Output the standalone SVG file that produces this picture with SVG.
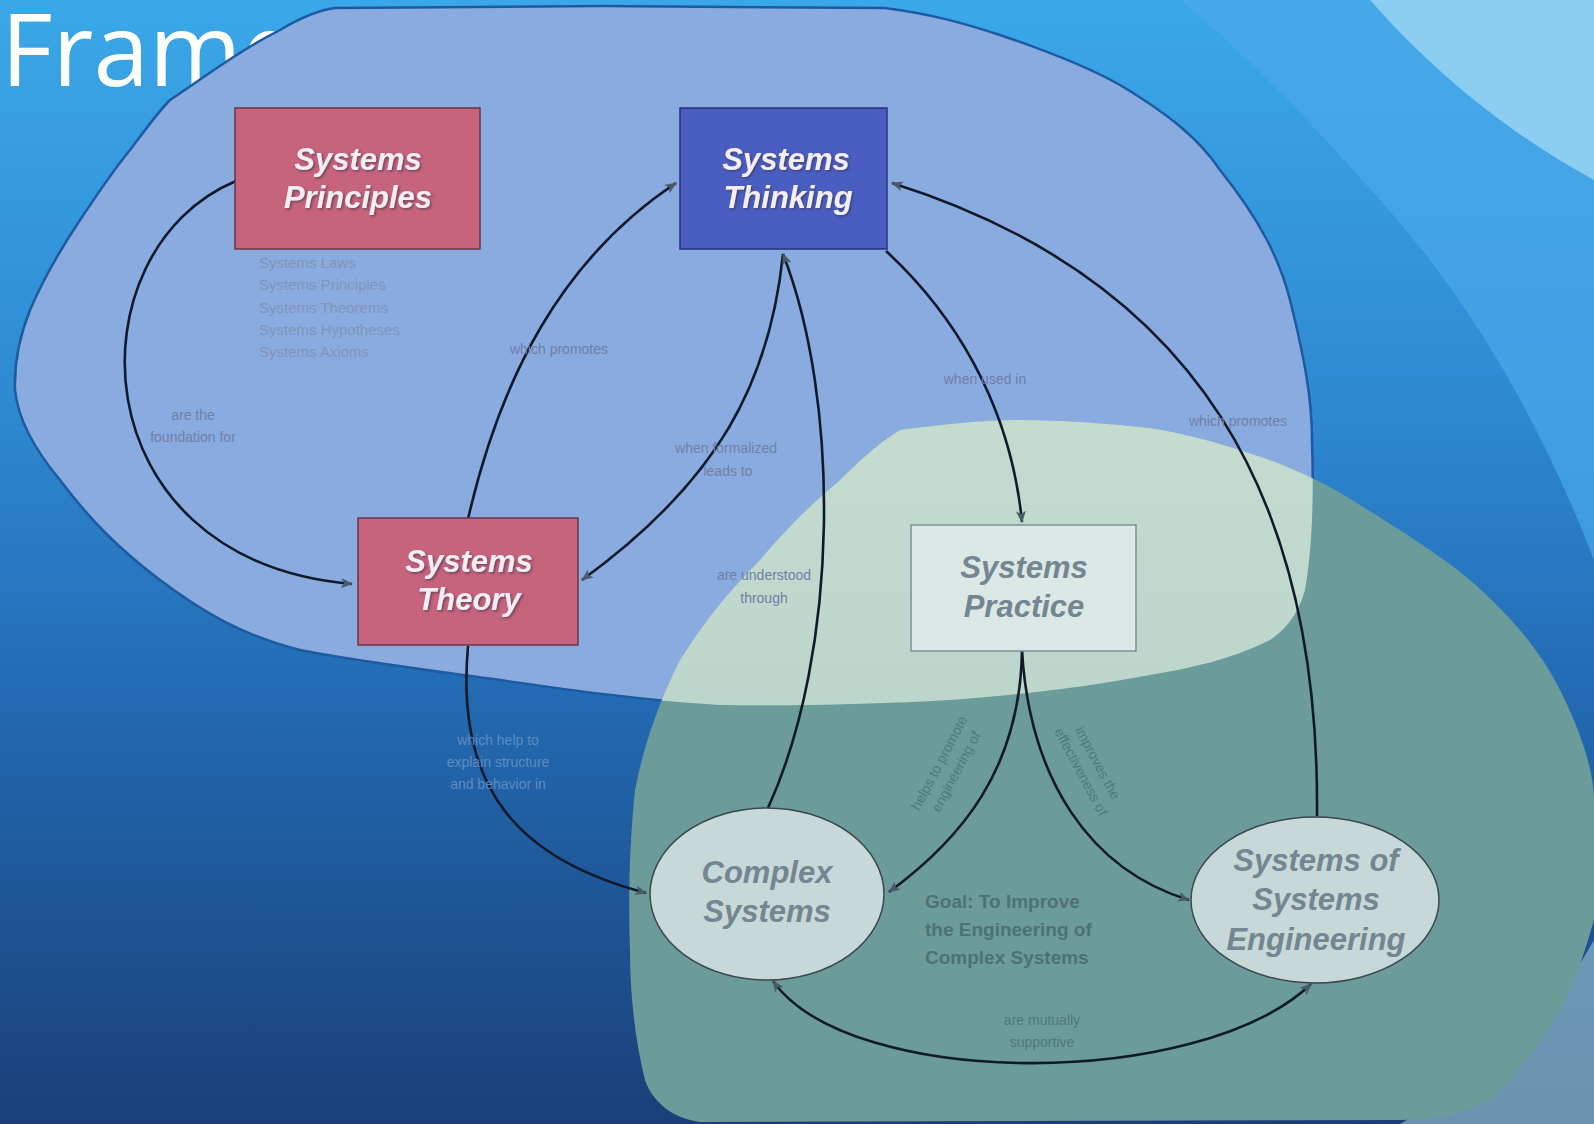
<svg xmlns="http://www.w3.org/2000/svg" width="1594" height="1124" viewBox="0 0 1594 1124">
<defs>
<linearGradient id="bg" x1="0" y1="0" x2="0" y2="1">
<stop offset="0" stop-color="#3aa8e8"/>
<stop offset="0.35" stop-color="#2f8ad2"/>
<stop offset="0.6" stop-color="#236db6"/>
<stop offset="1" stop-color="#1a3f78"/>
</linearGradient>
<linearGradient id="ov" x1="0" y1="0" x2="0" y2="1">
<stop offset="0" stop-color="#c4dccf"/>
<stop offset="1" stop-color="#b2cdc8"/>
</linearGradient>
<clipPath id="blueclip">
<path id="bluePath" d="M170,100 C200,80 240,50 280,30 C300,18 320,10 335,8 L600,6 L885,8 C930,14 960,22 1000,35 C1050,52 1090,68 1120,85 C1170,115 1200,140 1220,170 C1260,220 1280,260 1290,300 C1305,360 1312,400 1312,440 C1314,500 1312,550 1305,590 C1298,615 1285,630 1270,640 C1230,660 1190,668 1150,675 C1080,688 1010,696 950,700 C880,704 800,706 720,705 C640,700 570,690 500,680 C430,670 360,662 300,650 C240,635 200,610 160,580 C120,550 90,520 60,480 C35,450 18,420 15,390 C14,360 20,335 30,310 C45,275 60,250 80,220 C100,190 115,168 130,150 C145,130 158,112 170,100 Z"/>
</clipPath>
<marker id="ah" viewBox="0 0 12 10" refX="11" refY="5" markerWidth="12" markerHeight="10" markerUnits="userSpaceOnUse" orient="auto-start-reverse">
<path d="M0,0 L12,5 L0,10 L3,5 Z" fill="#4a5a6a"/>
</marker>
<filter id="sh" x="-10%" y="-10%" width="120%" height="130%">
<feDropShadow dx="1.5" dy="1.5" stdDeviation="0.8" flood-color="#303040" flood-opacity="0.6"/>
</filter>
</defs>
<style>
.lbl{font-family:"Liberation Sans",Arial,sans-serif;font-size:14px;fill:#6f80a6;text-anchor:middle}
.lbld{font-family:"Liberation Sans",Arial,sans-serif;font-size:14px;fill:#5d8cc0;text-anchor:middle}
.lblg{font-family:"Liberation Sans",Arial,sans-serif;font-size:14px;fill:#4e7a7c;text-anchor:middle}
.lst{font-family:"Liberation Sans",Arial,sans-serif;font-size:15px;fill:#8294ba}
.nt{font-family:"Liberation Sans",Arial,sans-serif;font-size:31px;font-weight:bold;font-style:italic;text-anchor:middle}
.wt{fill:#f4eef4}
.gt{fill:#748690}
.con{fill:none;stroke:#111a28;stroke-width:2.6;marker-end:url(#ah)}
.goal{font-family:"Liberation Sans",Arial,sans-serif;font-size:19px;font-weight:bold;fill:#4d7274}
</style>

<!-- background -->
<rect x="0" y="0" width="1594" height="1124" fill="url(#bg)"/>
<path d="M1180,0 L1594,0 L1594,560 C1540,420 1470,300 1380,200 C1300,110 1240,50 1180,0 Z" fill="#4aaaea" opacity="0.7"/>
<path d="M1370,0 L1594,0 L1594,180 C1520,140 1440,80 1370,0 Z" fill="#8ccdf2"/>
<path d="M1594,940 C1550,1020 1480,1080 1400,1124 L1594,1124 Z" fill="#8fb8c8" opacity="0.7"/>

<!-- title -->
<text x="1" y="86" font-family="'Open Sans','DejaVu Sans',sans-serif" font-size="100" fill="#ffffff">Frame</text>

<!-- blue blob -->
<use href="#bluePath" fill="#89abe0" stroke="#1d5aa0" stroke-width="2.5"/>

<!-- green blob -->
<path id="greenPath" d="M900,430 C960,422 990,420 1020,420 C1070,420 1110,424 1150,428 C1200,436 1240,450 1270,460 C1310,475 1340,492 1360,505 C1400,530 1440,555 1470,580 C1510,615 1540,650 1560,690 C1580,730 1594,770 1594,800 L1594,920 C1585,950 1575,985 1560,1010 C1540,1045 1515,1075 1490,1100 C1460,1115 1430,1120 1400,1120 L700,1122 C670,1118 652,1100 645,1080 C635,1040 630,995 630,950 C628,890 630,840 635,790 C645,740 660,700 680,660 C705,620 730,590 760,560 C785,530 810,505 840,480 C860,460 880,442 900,430 Z" fill="#6b9c9a"/>
<path d="M900,430 C960,422 990,420 1020,420 C1070,420 1110,424 1150,428 C1200,436 1240,450 1270,460 C1310,475 1340,492 1360,505 C1400,530 1440,555 1470,580 C1510,615 1540,650 1560,690 C1580,730 1594,770 1594,800 L1594,920 C1585,950 1575,985 1560,1010 C1540,1045 1515,1075 1490,1100 C1460,1115 1430,1120 1400,1120 L700,1122 C670,1118 652,1100 645,1080 C635,1040 630,995 630,950 C628,890 630,840 635,790 C645,740 660,700 680,660 C705,620 730,590 760,560 C785,530 810,505 840,480 C860,460 880,442 900,430 Z" fill="url(#ov)" clip-path="url(#blueclip)"/>

<!-- side texts -->
<g id="list">
<text class="lst" x="259" y="268">Systems Laws</text>
<text class="lst" x="259" y="290">Systems Principles</text>
<text class="lst" x="259" y="313">Systems Theorems</text>
<text class="lst" x="259" y="335">Systems Hypotheses</text>
<text class="lst" x="259" y="357">Systems Axioms</text>
</g>
<g id="goal">
<text class="goal" x="925" y="908">Goal: To Improve</text>
<text class="goal" x="925" y="936">the Engineering of</text>
<text class="goal" x="925" y="964">Complex Systems</text>
</g>

<!-- connectors -->
<g id="connectors">
<path class="con" d="M236,181 C70,250 75,560 352,584"/>
<path class="con" d="M468,519 C500,380 560,260 676,183"/>
<path class="con" d="M783,254 C770,380 720,480 582,580"/>
<path class="con" d="M768,808 C840,650 840,400 783,254"/>
<path class="con" d="M886,251 C950,310 1010,400 1022,522"/>
<path class="con" d="M1317,816 C1320,500 1200,280 892,183"/>
<path class="con" d="M468,646 C455,790 520,860 646,893"/>
<path class="con" d="M1022,651 C1020,770 960,840 889,892"/>
<path class="con" d="M1022,651 C1030,780 1090,870 1189,900"/>
<path class="con" style="marker-start:url(#ah)" d="M773,981 C850,1090 1200,1090 1311,984"/>

<text class="lbl" x="193" y="420">are the</text>
<text class="lbl" x="193" y="442">foundation for</text>
<text class="lbl" x="559" y="354">which promotes</text>
<text class="lbl" x="726" y="453">when formalized</text>
<text class="lbl" x="728" y="476">leads to</text>
<text class="lbl" x="764" y="580">are understood</text>
<text class="lbl" x="764" y="603">through</text>
<text class="lbl" x="985" y="384">when used in</text>
<text class="lbl" x="1238" y="426">which promotes</text>
<text class="lbld" x="498" y="745">which help to</text>
<text class="lbld" x="498" y="767">explain structure</text>
<text class="lbld" x="498" y="789">and behavior in</text>
<g transform="translate(947,767) rotate(-62)">
<text class="lblg" x="0" y="-4">helps to promote</text>
<text class="lblg" x="0" y="15">engineering of</text>
</g>
<g transform="translate(1090,767) rotate(62)">
<text class="lblg" x="0" y="-4">improves the</text>
<text class="lblg" x="0" y="15">effectiveness of</text>
</g>
<text class="lblg" x="1042" y="1025">are mutually</text>
<text class="lblg" x="1042" y="1047">supportive</text>
</g>

<!-- nodes -->
<g id="principles">
<rect x="235" y="108" width="245" height="141" fill="#c6637d" stroke="#6a3446" stroke-width="1.5"/>
<text class="nt wt" x="358" y="170" filter="url(#sh)">Systems</text>
<text class="nt wt" x="358" y="208" filter="url(#sh)">Principles</text>
</g>
<g id="thinking">
<rect x="680" y="108" width="207" height="141" fill="#4a5ec2" stroke="#26337a" stroke-width="1.5"/>
<text class="nt wt" x="786" y="170" filter="url(#sh)">Systems</text>
<text class="nt wt" x="788" y="208" filter="url(#sh)">Thinking</text>
</g>
<g id="theory">
<rect x="358" y="518" width="220" height="127" fill="#c6637d" stroke="#6a3446" stroke-width="1.5"/>
<text class="nt wt" x="469" y="572" filter="url(#sh)">Systems</text>
<text class="nt wt" x="469" y="610" filter="url(#sh)">Theory</text>
</g>
<g id="practice">
<rect x="911" y="525" width="225" height="126" fill="#dce8e6" stroke="#7f8e98" stroke-width="1.5"/>
<text class="nt gt" x="1024" y="578">Systems</text>
<text class="nt gt" x="1024" y="617">Practice</text>
</g>
<g id="complex">
<ellipse cx="767" cy="894" rx="117" ry="86" fill="#c6d9d8" stroke="#3a4650" stroke-width="1.5"/>
<text class="nt gt" x="767" y="883">Complex</text>
<text class="nt gt" x="767" y="922">Systems</text>
</g>
<g id="sose">
<ellipse cx="1315" cy="900" rx="124" ry="83" fill="#c6d9d8" stroke="#3a4650" stroke-width="1.5"/>
<text class="nt gt" x="1316" y="871">Systems of</text>
<text class="nt gt" x="1316" y="910">Systems</text>
<text class="nt gt" x="1316" y="950">Engineering</text>
</g>
</svg>
